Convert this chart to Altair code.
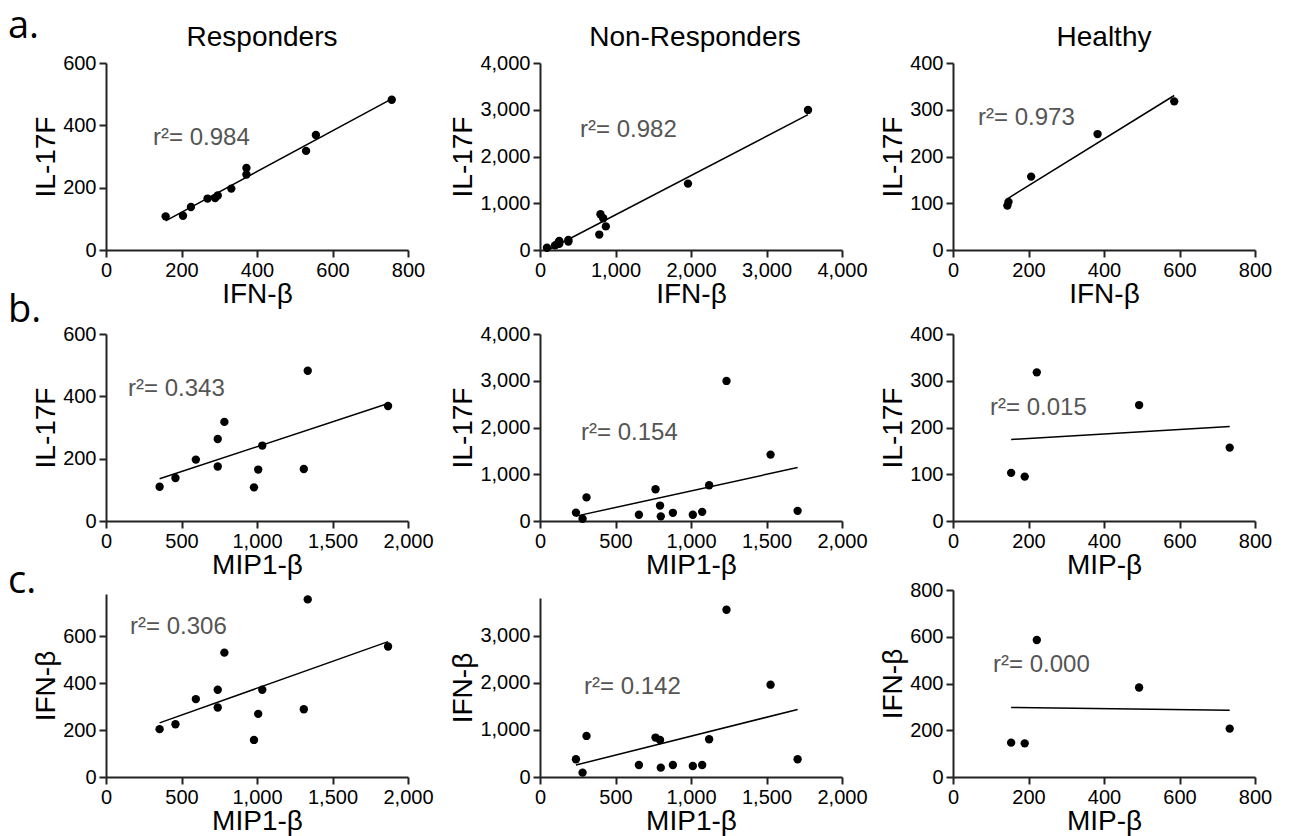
import altair as alt
import pandas as pd

# ---------------- data ----------------
# Responders (12 subjects)
resp_mip = [355, 460, 595, 740, 740, 784, 980, 1008, 1035, 1310, 1336, 1868]
resp_il17 = [110, 138, 197, 263, 175, 318, 108, 165, 242, 167, 482, 369]
resp_ifn = [204, 225, 332, 372, 296, 530, 158, 269, 372, 289, 757, 556]

# Non-Responders (14 subjects)
nr_mip = [238, 282, 308, 655, 765, 795, 800, 880, 1012, 1074, 1120, 1235, 1527, 1706]
nr_il17 = [180, 48, 505, 133, 680, 330, 99, 175, 133, 196, 764, 2996, 1420, 217]
nr_ifn = [376, 92, 872, 255, 837, 785, 199, 255, 234, 255, 801, 3550, 1960, 376]

# Healthy (5 subjects)
h_mip = [154, 190, 222, 493, 733]
h_il17 = [103, 95, 318, 248, 157]
h_ifn = [147, 144, 586, 383, 207]

col_titles = ["Responders", "Non-Responders", "Healthy"]
row_letters = ["a.", "b.", "c."]
r2_labels = [
    ["r\u00b2= 0.984", "r\u00b2= 0.982", "r\u00b2= 0.973"],
    ["r\u00b2= 0.343", "r\u00b2= 0.154", "r\u00b2= 0.015"],
    ["r\u00b2= 0.306", "r\u00b2= 0.142", "r\u00b2= 0.000"],
]

# ---------------- layout / style ----------------
FONT = "Liberation Sans"
W, H = 302, 187
COL_GAPS = [132, 111]
ROW_GAPS = [84, 69]
R2_POS = [
    [(47, 75), (40, 67), (25, 55)],
    [(22, 55), (41, 99), (37, 74)],
    [(24, 37), (44, 97), (40, 75)],
]
TITLE_DX = [5, 4, 0]
LETTER_Y = [-25, -12, 3]


def panel(xv, yv, xdom, ydom, xticks, yticks, xtitle, ytitle, r2, r2pos,
          title=None, title_dx=0, letter=None, letter_y=0, yrange=None):
    df = pd.DataFrame({"x": xv, "y": yv})
    if yrange is not None:
        yscale = alt.Scale(domain=ydom, nice=False, zero=False, range=yrange)
    else:
        yscale = alt.Scale(domain=ydom, nice=False, zero=False)
    xenc = alt.X("x:Q", scale=alt.Scale(domain=xdom, nice=False, zero=False),
                 axis=alt.Axis(values=xticks, format=",.0f", title=xtitle,
                               titlePadding=0))
    yenc = alt.Y("y:Q", scale=yscale,
                 axis=alt.Axis(values=yticks, format=",.0f", title=ytitle,
                               titlePadding=2))
    base = alt.Chart(df)
    line = base.transform_regression("x", "y").mark_line(
        color="black", strokeWidth=1.5).encode(x=xenc, y=yenc)
    pts = base.mark_circle(size=70, color="black", opacity=1).encode(x=xenc, y=yenc)
    txt = alt.Chart(pd.DataFrame({"t": [r2]})).mark_text(
        align="left", baseline="middle", fontSize=24, font=FONT, color="#555555"
    ).encode(text="t:N", x=alt.value(r2pos[0]), y=alt.value(r2pos[1]))
    layers = [line, pts, txt]
    if title is not None:
        tt = alt.Chart(pd.DataFrame({"t": [title]})).mark_text(
            align="center", baseline="alphabetic", fontSize=28, font=FONT,
            color="black"
        ).encode(text="t:N", x=alt.value(W / 2 + title_dx), y=alt.value(-17))
        layers.append(tt)
    if letter is not None:
        lt = alt.Chart(pd.DataFrame({"t": [letter]})).mark_text(
            align="left", baseline="alphabetic", fontSize=38, font="Open Sans",
            color="black"
        ).encode(text="t:N", x=alt.value(-98), y=alt.value(letter_y))
        layers.append(lt)
    return alt.layer(*layers).properties(width=W, height=H)


def spacer(w, h):
    return alt.Chart(pd.DataFrame({"v": [0]})).mark_point(opacity=0).encode(
        x=alt.value(0), y=alt.value(0)).properties(width=w, height=h)


t800 = [0, 200, 400, 600, 800]
t2000 = [0, 500, 1000, 1500, 2000]
t4000 = [0, 1000, 2000, 3000, 4000]

rows = [
    [
        panel(resp_ifn, resp_il17, [0, 800], [0, 600], t800, [0, 200, 400, 600],
              "IFN-β", "IL-17F", r2_labels[0][0], R2_POS[0][0],
              title=col_titles[0], title_dx=TITLE_DX[0],
              letter=row_letters[0], letter_y=LETTER_Y[0]),
        panel(nr_ifn, nr_il17, [0, 4000], [0, 4000], t4000, t4000,
              "IFN-β", "IL-17F", r2_labels[0][1], R2_POS[0][1],
              title=col_titles[1], title_dx=TITLE_DX[1]),
        panel(h_ifn, h_il17, [0, 800], [0, 400], t800, [0, 100, 200, 300, 400],
              "IFN-β", "IL-17F", r2_labels[0][2], R2_POS[0][2],
              title=col_titles[2], title_dx=TITLE_DX[2]),
    ],
    [
        panel(resp_mip, resp_il17, [0, 2000], [0, 600], t2000, [0, 200, 400, 600],
              "MIP1-β", "IL-17F", r2_labels[1][0], R2_POS[1][0],
              letter=row_letters[1], letter_y=LETTER_Y[1]),
        panel(nr_mip, nr_il17, [0, 2000], [0, 4000], t2000, t4000,
              "MIP1-β", "IL-17F", r2_labels[1][1], R2_POS[1][1]),
        panel(h_mip, h_il17, [0, 800], [0, 400], t800, [0, 100, 200, 300, 400],
              "MIP-β", "IL-17F", r2_labels[1][2], R2_POS[1][2]),
    ],
    [
        panel(resp_mip, resp_ifn, [0, 2000], [0, 780], t2000, [0, 200, 400, 600],
              "MIP1-β", "IFN-β", r2_labels[2][0], R2_POS[2][0],
              letter=row_letters[2], letter_y=LETTER_Y[2], yrange=[H, 4]),
        panel(nr_mip, nr_ifn, [0, 2000], [0, 3800], t2000, [0, 1000, 2000, 3000],
              "MIP1-β", "IFN-β", r2_labels[2][1], R2_POS[2][1], yrange=[H, 8]),
        panel(h_mip, h_ifn, [0, 800], [0, 800], t800, [0, 200, 400, 600, 800],
              "MIP-β", "IFN-β", r2_labels[2][2], R2_POS[2][2]),
    ],
]

cells = []
for ri, row in enumerate(rows):
    cells += [row[0], spacer(COL_GAPS[0], H), row[1], spacer(COL_GAPS[1], H), row[2]]
    if ri < 2:
        g = ROW_GAPS[ri]
        cells += [spacer(W, g), spacer(COL_GAPS[0], g), spacer(W, g),
                  spacer(COL_GAPS[1], g), spacer(W, g)]

chart = alt.concat(*cells, columns=5, spacing=0, bounds="flush", align="each").properties(
    padding={"left": 0, "top": 0, "right": 5, "bottom": 5},
    background="white",
).configure_view(stroke=None).configure_axis(
    grid=False,
    domainColor="#222222", domainWidth=2,
    tickColor="#222222", tickWidth=2, tickSize=7,
    labelFont=FONT, labelFontSize=20, labelColor="black", labelPadding=3,
    labelFlush=False, labelOverlap=False,
    titleFont=FONT, titleFontSize=28, titleFontWeight="normal", titleColor="black",
)

chart.save("out.html", embed_options={"renderer": "svg", "actions": False})
